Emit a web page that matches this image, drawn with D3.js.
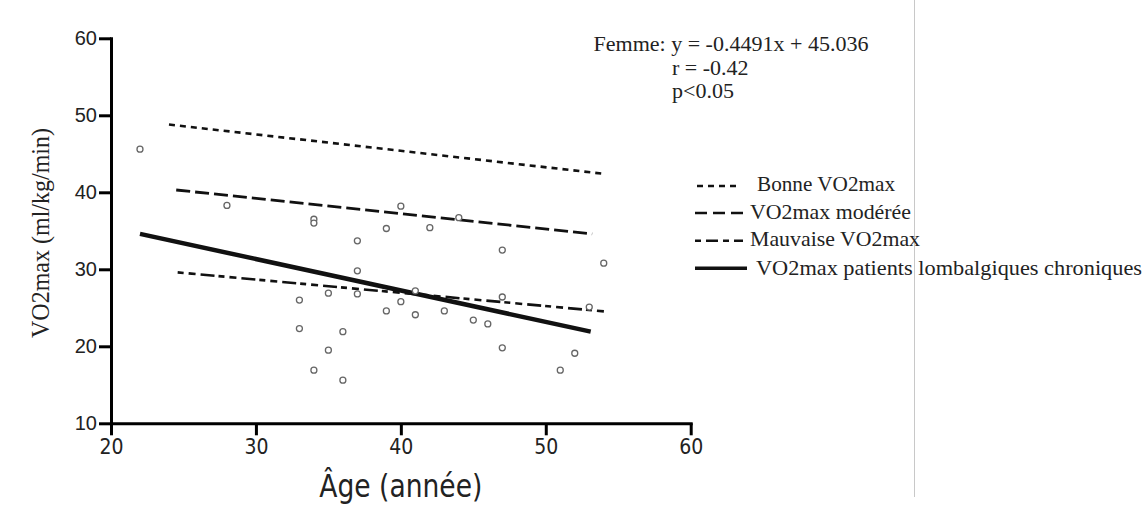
<!DOCTYPE html>
<html><head><meta charset="utf-8">
<script src="https://cdn.jsdelivr.net/npm/d3@7"></script>
<style>body{margin:0;background:#fff}svg{display:block}</style>
</head><body>
<svg id="c" width="1144" height="515"></svg>
<script>
// ---- data ----
const ages = [22,28,33,33,34,34,34,35,35,36,36,37,37,37,39,39,40,40,41,41,42,43,44,45,46,47,47,47,51,52,53,54];
const vo2  = [45.6,38.3,26.0,22.3,36.5,36.0,16.9,26.9,19.5,21.9,15.6,33.7,29.8,26.8,35.3,24.6,38.2,25.8,27.2,24.1,35.4,24.6,36.7,23.4,22.9,32.5,26.4,19.8,16.9,19.1,25.1,30.8];
const seriesNames = ["Bonne VO2max","VO2max modérée","Mauvaise VO2max","VO2max patients lombalgiques chroniques"];
const bonneLine    = [[24,48.8],[54,42.4]];
const modereeLine  = [[24.5,40.3],[53.2,34.6]];
const mauvaiseLine = [[24.6,29.6],[54.2,24.5]];
const patientsLine = [[22,34.6],[53.1,21.9]];
const xTicks = [20,30,40,50,60];
const yTicks = [10,20,30,40,50,60];
const annotation = ["Femme: y = -0.4491x + 45.036","r = -0.42","p<0.05"];
const xTitle = "Âge (année)";
const yTitle = "VO2max (ml/kg/min)";

// ---- drawing ----
const svg = d3.select("#c");
const x = d3.scaleLinear().domain([20,60]).range([111,690.7]);
const y = d3.scaleLinear().domain([10,60]).range([423.3,38.3]);

const serif = "'Liberation Serif','DejaVu Serif',serif";
const narrow = "'DejaVu Sans Condensed','DejaVu Sans',sans-serif";

// right-side separator line
svg.append("line").attr("x1",914.5).attr("x2",914.5).attr("y1",0).attr("y2",497)
  .attr("stroke","#c8c8c8").attr("stroke-width",1);

// axes
const gx = svg.append("g").attr("transform","translate(0,"+y(10)+")")
  .call(d3.axisBottom(x).tickValues(xTicks).tickSize(12).tickSizeOuter(0).tickPadding(4).tickFormat(d3.format("d")));
const gy = svg.append("g").attr("transform","translate("+x(20)+",0)")
  .call(d3.axisLeft(y).tickValues(yTicks).tickSize(12).tickSizeOuter(0).tickPadding(2).tickFormat(d3.format("d")));
[gx,gy].forEach(g=>{
  g.selectAll("path.domain").attr("stroke","#000").attr("stroke-width",3).attr("stroke-linecap","square");
  g.selectAll(".tick line").attr("stroke","#000").attr("stroke-width",3);
});
gx.selectAll(".tick text").attr("font-family",narrow).attr("font-stretch","condensed").attr("font-size",21).attr("fill","#222");
gy.selectAll(".tick text").attr("font-family","'Liberation Sans',Arimo,sans-serif").attr("font-size",20).attr("fill","#222");

// axis titles
svg.append("text").attr("x",(x(20)+x(60))/2).attr("y",497).attr("text-anchor","middle")
  .attr("font-family",narrow).attr("font-stretch","condensed").attr("font-size",32).attr("fill","#222")
  .attr("textLength",163).attr("lengthAdjust","spacingAndGlyphs").text(xTitle);
svg.append("text").attr("transform","translate(49,233) rotate(-90)").attr("text-anchor","middle")
  .attr("font-family",serif).attr("font-size",25).attr("fill","#222")
  .attr("textLength",210).attr("lengthAdjust","spacingAndGlyphs").text(yTitle);

// lines
const lineGen = d3.line().x(d=>x(d[0])).y(d=>y(d[1]));
const lineStyles = [
  {w:2.6, dash:"6,5"},
  {w:2.8, dash:"14,5"},
  {w:2.6, dash:"6,5,7,5,14,4"},
  {w:4.5, dash:null}
];
const lineData = [bonneLine, modereeLine, mauvaiseLine, patientsLine];
lineData.forEach((ld,i)=>{
  const p = svg.append("path").datum(ld).attr("d",lineGen).attr("fill","none")
    .attr("stroke","#111").attr("stroke-width",lineStyles[i].w);
  if(lineStyles[i].dash) p.attr("stroke-dasharray",lineStyles[i].dash);
});

// points
svg.append("g").selectAll("circle").data(ages.map((a,i)=>[a,vo2[i]])).join("circle")
  .attr("cx",d=>x(d[0])).attr("cy",d=>y(d[1])).attr("r",3)
  .attr("fill","#fff").attr("stroke","#666").attr("stroke-width",1.3);

// annotation
const annX = [593.5,672,672], annY=[51,75,98], annLen=[275,null,null];
annotation.forEach((t,i)=>{
  const el = svg.append("text").attr("x",annX[i]).attr("y",annY[i]).attr("font-family",serif)
    .attr("font-size",22).attr("fill","#222").text(t);
  if(annLen[i]) el.attr("textLength",annLen[i]).attr("lengthAdjust","spacingAndGlyphs");
});

// legend
const legY = [186,213,240.7,268.3];
const legTx = [757,750,750,756];
const legTy = [191,219,246,275];
const legLen = [138,161,170,386];
const legSample = [[697,738],[695,743],[695,743],[695,747]];
const legDash = ["6,5","12,6","6,5,12,5","none"];
seriesNames.forEach((n,i)=>{
  svg.append("line").attr("x1",legSample[i][0]).attr("x2",legSample[i][1]).attr("y1",legY[i]).attr("y2",legY[i])
    .attr("stroke","#111").attr("stroke-width",i===3?3.5:2.4).attr("stroke-dasharray",legDash[i]);
  svg.append("text").attr("x",legTx[i]).attr("y",legTy[i]).attr("font-family",serif).attr("font-size",22)
    .attr("fill","#222").attr("textLength",legLen[i]).attr("lengthAdjust","spacingAndGlyphs").text(n);
});
</script>
</body></html>
